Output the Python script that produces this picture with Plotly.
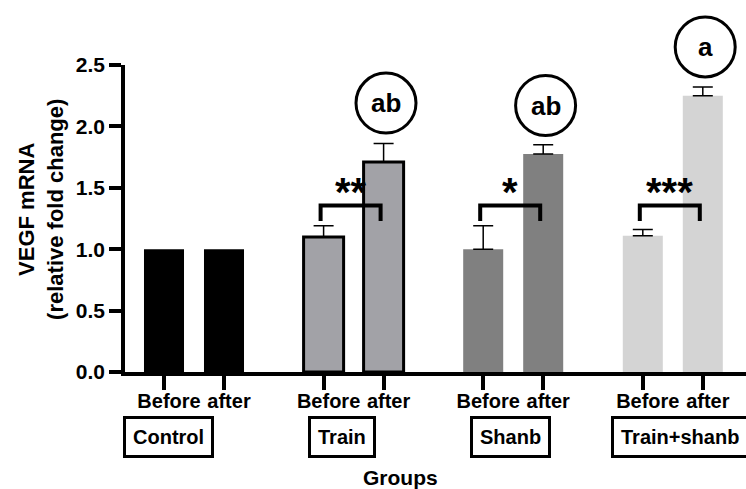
import plotly.graph_objects as go

# Data
groups = ["Control", "Train", "Shanb", "Train+shanb"]
phases = ["Before", "after"]
means = [[1.0, 1.0], [1.10, 1.71], [1.0, 1.775], [1.11, 2.25]]
errors = [[0.0, 0.0], [0.09, 0.15], [0.19, 0.075], [0.05, 0.07]]
significance = ["", "**", "*", "***"]
letters = ["", "ab", "ab", "a"]
tick_values = [0.0, 0.5, 1.0, 1.5, 2.0, 2.5]

# Styling
fills = ["#000000", "#a2a2a7", "#808080", "#d4d4d4"]
outlines = [0, 3, 0, 0]
FONT = "Liberation Sans, Arial, sans-serif"
GROUP_STEP = 2.66
BAR_W = 0.667
Y_MAX = 2.5

fig = go.Figure()

tickvals, ticktext = [], []
for g, name in enumerate(groups):
    xs = [g * GROUP_STEP + i for i in range(len(phases))]
    tickvals += xs
    ticktext += phases
    has_err = any(e > 0 for e in errors[g])
    fig.add_trace(go.Bar(
        x=xs, y=means[g], width=BAR_W,
        marker=dict(color=fills[g], line=dict(color="black", width=outlines[g])),
        error_y=dict(type="data", array=errors[g], arrayminus=[0] * len(xs),
                     symmetric=False, visible=has_err, color="black",
                     thickness=1.5, width=10),
        name=name, showlegend=False,
    ))

# Significance brackets and stars
bracket_top, bracket_leg = 1.355, 1.23
for g, mark in enumerate(significance):
    if not mark:
        continue
    x0 = g * GROUP_STEP - 0.05
    x1 = g * GROUP_STEP + 1 - 0.05
    fig.add_shape(type="path",
                  path=f"M {x0},{bracket_leg} L {x0},{bracket_top} L {x1},{bracket_top} L {x1},{bracket_leg}",
                  line=dict(color="black", width=4), xref="x", yref="y")
    fig.add_annotation(x=(x0 + x1) / 2, y=bracket_top, xref="x", yref="y",
                       text=mark, showarrow=False, yanchor="bottom",
                       yshift=-10, font=dict(family=FONT, size=40, color="black", weight="bold"))

# Circled group letters above the "after" bars (paper y so the top one may sit above the axis)
letter_y = [0, 2.19, 2.17, 2.647]
for g, lab in enumerate(letters):
    if not lab:
        continue
    cx = g * GROUP_STEP + 1 + 0.04
    cy = letter_y[g] / Y_MAX
    fig.add_shape(type="circle", xref="x", yref="paper",
                  xsizemode="pixel", ysizemode="pixel",
                  xanchor=cx, yanchor=cy, x0=-30, x1=30, y0=-30, y1=30,
                  line=dict(color="black", width=3))
    fig.add_annotation(x=cx, y=cy, xref="x", yref="paper", text=lab,
                       showarrow=False, xanchor="center", yanchor="middle",
                       font=dict(family=FONT, size=26, color="black", weight="bold"))

# Boxed group names under the axis
box_x = [0.075, 2.967, 5.767, 8.6]
for g, name in enumerate(groups):
    fig.add_annotation(x=box_x[g], y=-0.2117, xref="x", yref="paper",
                       text=name, showarrow=False, bordercolor="black",
                       xanchor="center", yanchor="middle",
                       borderwidth=3, borderpad=7, bgcolor="white",
                       font=dict(family=FONT, size=20, color="black", weight="bold"))

# Axis titles
fig.add_annotation(x=0, y=0.528, xref="paper", yref="paper", xshift=-84,
                   text="VEGF mRNA<br>(relative fold change)", textangle=-90,
                   showarrow=False, xanchor="center", yanchor="middle",
                   font=dict(family=FONT, size=22, color="black", weight="bold"))
fig.add_annotation(x=0.444, y=-0.345, xref="paper", yref="paper",
                   text="Groups", showarrow=False, xanchor="center", yanchor="middle",
                   font=dict(family=FONT, size=21, color="black", weight="bold"))

fig.update_layout(
    width=746, height=489,
    margin=dict(l=125, r=0, t=65, b=117),
    paper_bgcolor="white", plot_bgcolor="white",
    barmode="overlay", showlegend=False,
    xaxis=dict(range=[-0.65, 9.7], tickvals=tickvals, ticktext=ticktext,
               showline=True, linecolor="black", linewidth=3.5,
               ticks="outside", ticklen=14, tickwidth=3.5, tickcolor="black",
               showgrid=False, zeroline=False, ticklabelshift=5,
               ticklabelstandoff=-6,
               tickfont=dict(family=FONT, size=20, color="black", weight="bold")),
    yaxis=dict(range=[0, Y_MAX], tickvals=tick_values, tickformat=".1f",
               showline=True, linecolor="black", linewidth=3.5,
               ticks="outside", ticklen=12, tickwidth=3.5, tickcolor="black",
               showgrid=False, zeroline=False,
               tickfont=dict(family=FONT, size=21, color="black", weight="bold")),
)

fig.write_html("out.html")
